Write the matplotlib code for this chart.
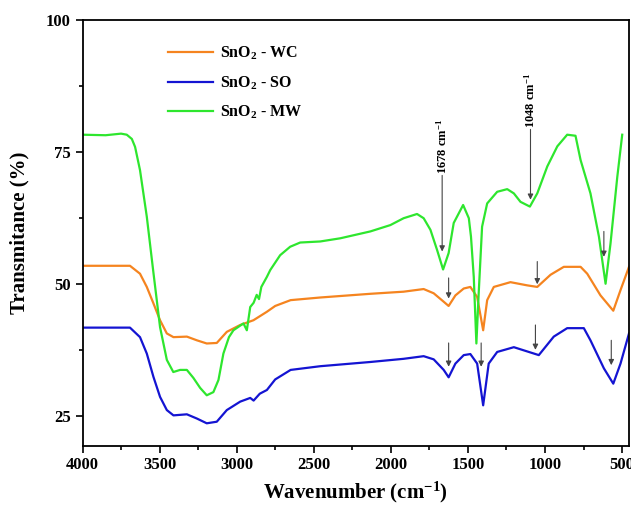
import matplotlib
matplotlib.use("Agg")
import matplotlib.pyplot as plt
from matplotlib.ticker import MultipleLocator

plt.rcParams['font.family'] = ['Liberation Serif', 'DejaVu Serif']
plt.rcParams['font.weight'] = 'bold'
plt.rcParams['mathtext.fontset'] = 'custom'
plt.rcParams['mathtext.rm'] = 'Liberation Serif:bold'
plt.rcParams['mathtext.bf'] = 'Liberation Serif:bold'
plt.rcParams['mathtext.default'] = 'regular'

# ---- data ----
wn_mw = [4000, 3850, 3750, 3713, 3680, 3659, 3627, 3583, 3542, 3497, 3453, 3411, 3367, 3323,
         3281, 3237, 3194, 3151, 3118, 3086, 3050, 3021, 2956, 2934, 2912, 2890, 2870, 2855,
         2840, 2804, 2782, 2718, 2653, 2588, 2458, 2328, 2133, 2003, 1917, 1830, 1787, 1743,
         1700, 1661, 1625, 1592, 1531, 1494, 1480, 1462, 1445, 1430, 1408, 1375, 1310, 1245,
         1202, 1159, 1098, 1050, 985, 920, 856, 802, 769, 705, 650, 607, 575, 531, 499]
t_mw = [78.3, 78.2, 78.5, 78.3, 77.5, 76.0, 71.6, 62.8, 52.7, 41.9, 35.7, 33.4, 33.8, 33.8,
        32.3, 30.4, 29.0, 29.6, 31.9, 36.9, 40.0, 41.3, 42.6, 41.3, 45.7, 46.5, 48.0, 47.2,
        49.5, 51.4, 52.7, 55.5, 57.1, 57.9, 58.1, 58.7, 60.0, 61.2, 62.5, 63.3, 62.5, 60.3,
        56.5, 52.8, 55.9, 61.6, 65.0, 62.5, 59.0, 51.4, 38.8, 48.3, 60.9, 65.3, 67.5, 68.0,
        67.2, 65.6, 64.7, 67.2, 72.3, 76.1, 78.3, 78.1, 73.5, 67.2, 59.0, 50.1, 57.7, 70.3, 78.3]

wn_wc = [4000, 3850, 3692, 3627, 3583, 3540, 3497, 3453, 3410, 3323, 3258, 3194, 3129, 3064,
         2977, 2891, 2804, 2750, 2650, 2458, 2133, 1917, 1787, 1722, 1657, 1625, 1581, 1527, 1484,
         1440, 1401, 1375, 1332, 1224, 1116, 1050, 964, 878, 769, 726, 640, 557, 510, 455]
t_wc = [53.5, 53.5, 53.5, 52.0, 49.5, 46.4, 43.2, 40.7, 40.0, 40.1, 39.4, 38.8, 38.9, 41.0,
        42.3, 43.2, 44.8, 45.9, 47.0, 47.5, 48.2, 48.6, 49.1, 48.3, 46.7, 45.9, 47.9, 49.2, 49.5,
        47.6, 41.3, 47.0, 49.5, 50.4, 49.8, 49.5, 51.8, 53.3, 53.3, 52.0, 47.9, 45.0, 48.9, 53.3]

wn_so = [4000, 3850, 3692, 3627, 3583, 3540, 3497, 3453, 3410, 3323, 3258, 3194, 3129, 3064,
         2977, 2912, 2890, 2850, 2804, 2750, 2650, 2458, 2133, 1917, 1787, 1722, 1657, 1625, 1581,
         1527, 1484, 1440, 1401, 1365, 1310, 1202, 1094, 1040, 943, 856, 748, 705, 618, 557,
         510, 455]
t_so = [41.8, 41.8, 41.8, 40.0, 36.9, 32.5, 28.7, 26.2, 25.2, 25.4, 24.6, 23.7, 24.0, 26.2,
        27.8, 28.5, 28.0, 29.3, 30.0, 32.0, 33.8, 34.5, 35.3, 35.9, 36.4, 35.8, 33.8, 32.4, 35.0,
        36.6, 36.8, 35.0, 27.1, 35.0, 37.2, 38.1, 37.1, 36.6, 40.1, 41.7, 41.7, 39.4, 34.1, 31.2,
        35.0, 40.7]

labels = ["SnO$_2$ - WC", "SnO$_2$ - SO", "SnO$_2$ - MW"]
colors = ["#F5841F", "#1414D2", "#2EE62E"]

# arrows marking bands (x, start y, tip y)
arrow_x = [1667, 1094, 1625, 1625, 1414, 1050, 1062, 618, 570]
arrow_y0 = [70.6, 79.3, 51.2, 38.9, 38.9, 54.3, 42.3, 60.0, 39.4]
arrow_y1 = [56.2, 66.0, 47.3, 34.4, 34.4, 50.0, 37.6, 55.2, 34.7]
band_labels = ["1678 cm$^{-1}$", "1048 cm$^{-1}$"]

# ---- figure ----
fig = plt.figure(figsize=(6.31, 5.14), dpi=100)
ax = fig.add_axes([82.5 / 631, 1 - 445.5 / 514, (629 - 82.5) / 631, (445.5 - 20) / 514])

for wn, t, lab, c in zip([wn_wc, wn_so, wn_mw], [t_wc, t_so, t_mw], labels, colors):
    ax.plot(wn, t, color=c, lw=1.6, label=lab)

for i, (x, y0, y1) in enumerate(zip(arrow_x, arrow_y0, arrow_y1)):
    ax.annotate("", xy=(x, y1), xytext=(x, y0),
                arrowprops=dict(arrowstyle="-|>", color="#444444", lw=0.8,
                                mutation_scale=8, shrinkA=0, shrinkB=0))
    if i < len(band_labels):
        ax.text(x, y0 + 0.3, band_labels[i], rotation=90, ha="center", va="bottom",
                fontsize=9, fontweight="bold")

ax.set_xlim(4000, 455)
ax.set_ylim(19.5, 100)
ax.xaxis.set_major_locator(MultipleLocator(500))
ax.xaxis.set_minor_locator(MultipleLocator(250))
ax.yaxis.set_major_locator(MultipleLocator(25))
ax.yaxis.set_minor_locator(MultipleLocator(12.5))
ax.tick_params(which="major", direction="out", length=5, width=1.2, labelsize=12)
ax.tick_params(which="minor", direction="out", length=3, width=1.2)
for lbl in ax.get_xticklabels() + ax.get_yticklabels():
    lbl.set_fontweight("bold")
for s in ax.spines.values():
    s.set_linewidth(1.3)

ax.set_xlabel("Wavenumber (cm$^{-1}$)", fontsize=15, fontweight="bold", labelpad=5)
ax.set_ylabel("Transmitance (%)", fontsize=15, fontweight="bold", labelpad=12)

ax.legend(loc="upper left", bbox_to_anchor=(168 / 631, 1 - 45 / 514),
          bbox_transform=fig.transFigure, frameon=False, fontsize=11.5,
          handlelength=2.8, handletextpad=0.45, labelspacing=0.75,
          borderpad=0, borderaxespad=0)

fig.savefig("out.png", dpi=100)
